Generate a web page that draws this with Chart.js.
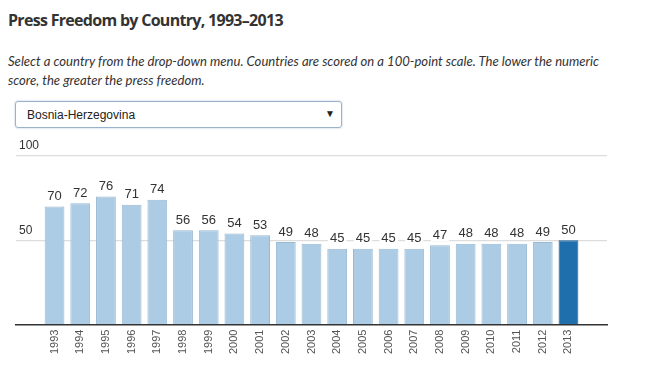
<!DOCTYPE html>
<html><head><meta charset="utf-8">
<script src="https://cdn.jsdelivr.net/npm/chart.js@4"></script>
<style>
html,body{margin:0;padding:0;background:#fff;width:653px;height:381px;overflow:hidden;}
#title{position:absolute;left:8px;top:9px;font-family:"Open Sans",sans-serif;font-weight:700;font-size:16px;letter-spacing:-0.7px;color:#333;white-space:nowrap;}
#sub{position:absolute;left:8px;top:52px;width:640px;font-family:Lato,sans-serif;font-style:italic;font-size:13.1px;line-height:19px;color:#333;white-space:nowrap;}
#sel{position:absolute;left:15px;top:101px;width:327px;height:27px;border:1px solid #9ab3cc;border-radius:3px;box-shadow:0 0 2px rgba(100,140,180,0.55);font-family:"Liberation Sans",Arial,sans-serif;font-size:12px;color:#222;box-sizing:border-box;}
#sel span.t{position:absolute;left:11px;top:6px;}
#sel span.a{position:absolute;right:6px;top:6px;font-size:10px;}
#wrap{position:absolute;left:0;top:130px;width:653px;height:251px;}
</style></head><body>
<div id="title">Press Freedom by Country, 1993–2013</div>
<div id="sub">Select a country from the drop-down menu. Countries are scored on a 100-point scale. The lower the numeric<br>score, the greater the press freedom.</div>
<div id="sel"><span class="t">Bosnia-Herzegovina</span><span class="a">▼</span></div>
<div id="wrap"><canvas id="c" width="653" height="251"></canvas></div>
<script>
const years = ['1993','1994','1995','1996','1997','1998','1999','2000','2001','2002','2003','2004','2005','2006','2007','2008','2009','2010','2011','2012','2013'];
const scores = [70,72,76,71,74,56,56,54,53,49,48,45,45,45,45,47,48,48,48,49,50];
const yTicks = [0,50,100];
const highlightYear = '2013';

const labels = [''].concat(years, ['']);
const data = [null].concat(scores, [null]);
const colors = labels.map(l => l === highlightYear ? '#1f6fad' : '#abcce4');
const borders = labels.map(l => l === highlightYear ? '#1a5f96' : '#98b9d2');

const valueLabels = {
  id: 'valueLabels',
  afterDatasetsDraw(chart) {
    const ctx = chart.ctx;
    const meta = chart.getDatasetMeta(0);
    ctx.save();
    ctx.font = '13px "Liberation Sans", Arial, sans-serif';
    ctx.textAlign = 'center';
    ctx.textBaseline = 'middle';
    meta.data.forEach((bar, i) => {
      const v = data[i];
      if (v == null) return;
      const txt = String(v);
      const w = ctx.measureText(txt).width;
      const y = bar.y - 10;
      ctx.fillStyle = '#fff';
      ctx.fillRect(bar.x - w/2 - 2, y - 7, w + 4, 13);
      ctx.fillStyle = '#333';
      ctx.fillText(txt, bar.x, y);
    });
    ctx.restore();
  }
};

new Chart(document.getElementById('c'), {
  type: 'bar',
  data: { labels: labels, datasets: [{ data: data, backgroundColor: colors, borderColor: borders, borderWidth: 1, barPercentage: 0.77, categoryPercentage: 1 }] },
  options: {
    responsive: false, animation: false,
    layout: { padding: { left: 10, right: 46, top: 26, bottom: 22 } },
    plugins: { legend: { display: false }, tooltip: { enabled: false } },
    scales: {
      x: {
        grid: { display: false, drawTicks: false },
        border: { display: true, color: '#333', width: 1.5 },
        ticks: { minRotation: 90, maxRotation: 90, autoSkip: false, padding: 5, color: '#555', font: { family: '"Liberation Sans", Arial, sans-serif', size: 11 } }
      },
      y: {
        min: 0, max: 100,
        afterBuildTicks(axis) { axis.ticks = yTicks.map(v => ({ value: v })); },
        grid: { drawTicks: false, color: ctx => ctx.tick && ctx.tick.value === 0 ? 'rgba(0,0,0,0)' : '#ddd', lineWidth: 1.2 },
        border: { display: false },
        ticks: { mirror: true, padding: 3, labelOffset: -10, color: '#333', font: { family: '"Liberation Sans", Arial, sans-serif', size: 12 }, callback: v => v === 0 ? '' : String(v) }
      }
    }
  },
  plugins: [valueLabels]
});
</script>
</body></html>
